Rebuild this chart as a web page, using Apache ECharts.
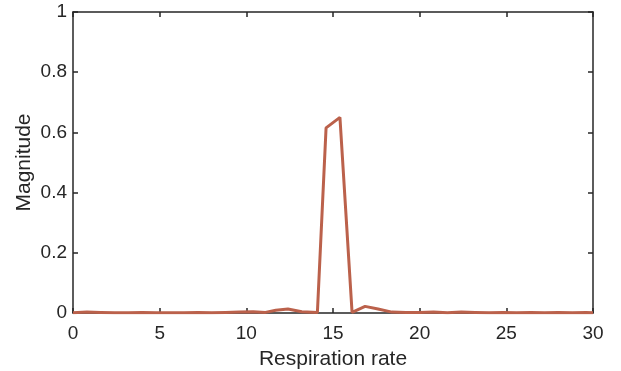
<!DOCTYPE html>
<html>
<head>
<meta charset="utf-8">
<script src="https://cdn.jsdelivr.net/npm/echarts@6/dist/echarts.min.js"></script>
<style>html,body{margin:0;padding:0;background:#fff;}#c{width:621px;height:371px;}</style>
</head>
<body>
<div id="c"></div>
<script>
var rates = [0, 0.8, 1.6, 2.4, 3.2, 4.0, 4.8, 5.6, 6.4, 7.2, 8.0, 8.8, 9.6, 10.4, 11.1, 11.7, 12.4, 13.2, 14.1, 14.6, 15.4, 16.1, 16.85, 17.6, 18.4, 19.2, 20.0, 20.8, 21.6, 22.4, 23.2, 24.0, 24.8, 25.6, 26.4, 27.2, 28.0, 28.8, 29.6, 30];
var magnitudes = [0.001, 0.003, 0.002, 0.001, 0.001, 0.002, 0.001, 0.001, 0.001, 0.002, 0.001, 0.002, 0.003, 0.004, 0.002, 0.009, 0.013, 0.004, 0.002, 0.615, 0.65, 0.002, 0.022, 0.013, 0.003, 0.002, 0.002, 0.003, 0.001, 0.003, 0.002, 0.001, 0.002, 0.001, 0.002, 0.001, 0.002, 0.001, 0.002, 0.001];
var xTicks = [0, 5, 10, 15, 20, 25, 30];
var yTicks = [0, 0.2, 0.4, 0.6, 0.8, 1];

var pts = rates.map(function (x, i) { return [x, magnitudes[i]]; });
var axisColor = '#262626';
var font = 'Liberation Sans, Arial, Helvetica, sans-serif';
var chart = echarts.init(document.getElementById('c'));
chart.setOption({
  animation: false,
  backgroundColor: '#fff',
  grid: { left: 73, right: 28, top: 12, bottom: 58, containLabel: false, outerBoundsMode: 'none' },
  xAxis: [{
    type: 'value', min: 0, max: 30, interval: 5,
    name: 'Respiration rate', nameLocation: 'middle', nameGap: 36, nameMoveOverlap: false,
    nameTextStyle: { color: axisColor, fontSize: 21, fontFamily: font },
    axisLine: { show: true, onZero: false, lineStyle: { color: axisColor, width: 1.5 } },
    axisTick: { show: true, inside: true, length: 5, lineStyle: { color: axisColor, width: 1.5 } },
    axisLabel: { color: axisColor, fontSize: 19, fontFamily: font, margin: 11,
      formatter: function (v) { return xTicks.indexOf(v) >= 0 ? String(v) : ''; } },
    splitLine: { show: false }
  }, {
    type: 'value', min: 0, max: 30, interval: 5, position: 'top',
    axisLine: { show: true, onZero: false, lineStyle: { color: axisColor, width: 1.5 } },
    axisTick: { show: true, inside: true, length: 5, lineStyle: { color: axisColor, width: 1.5 } },
    axisLabel: { show: false }, splitLine: { show: false }
  }],
  yAxis: [{
    type: 'value', min: 0, max: 1, interval: 0.2,
    name: 'Magnitude', nameLocation: 'middle', nameGap: 38, nameRotate: 90, nameMoveOverlap: false,
    nameTextStyle: { color: axisColor, fontSize: 21, fontFamily: font },
    axisLine: { show: true, onZero: false, lineStyle: { color: axisColor, width: 1.5 } },
    axisTick: { show: true, inside: true, length: 5, lineStyle: { color: axisColor, width: 1.5 } },
    axisLabel: { color: axisColor, fontSize: 19, fontFamily: font, margin: 6,
      formatter: function (v) { var r = Math.round(v * 10) / 10; return yTicks.indexOf(r) >= 0 ? String(r) : ''; } },
    splitLine: { show: false }
  }, {
    type: 'value', min: 0, max: 1, interval: 0.2, position: 'right',
    axisLine: { show: true, onZero: false, lineStyle: { color: axisColor, width: 1.5 } },
    axisTick: { show: true, inside: true, length: 5, lineStyle: { color: axisColor, width: 1.5 } },
    axisLabel: { show: false }, splitLine: { show: false }
  }],
  series: [{
    type: 'line', xAxisIndex: 0, yAxisIndex: 0,
    data: pts, showSymbol: false, symbol: 'none', smooth: false,
    lineStyle: { color: '#bb614b', width: 3 }, z: 5
  }]
});
</script>
</body>
</html>
